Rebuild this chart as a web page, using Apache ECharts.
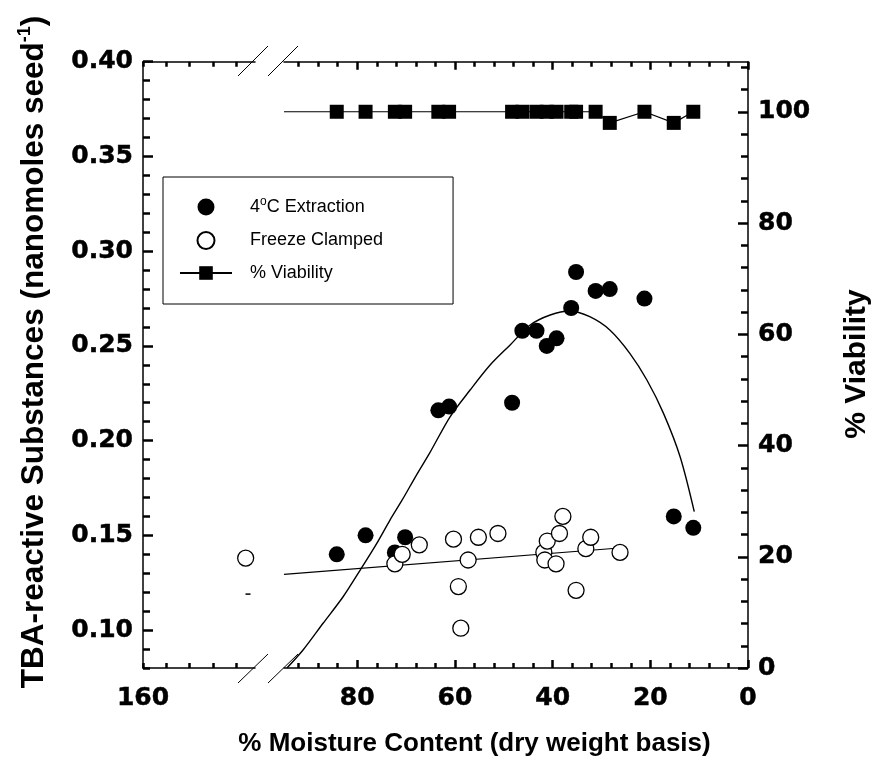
<!DOCTYPE html>
<html><head><meta charset="utf-8">
<script src="https://cdn.jsdelivr.net/npm/echarts@6/dist/echarts.min.js"></script>
<style>html,body{margin:0;padding:0;background:#fff}#c{width:881px;height:775px}</style>
</head><body><div id="c"></div>
<script>
// ---- data ----
const moisture4C = [84.2, 78.3, 72.3, 70.2, 63.4, 61.2, 48.3, 46.2, 43.3, 41.2, 39.2, 36.2, 35.2, 31.2, 28.3, 21.2, 15.2, 11.2];
const tba4C      = [0.140, 0.150, 0.141, 0.149, 0.216, 0.218, 0.220, 0.258, 0.258, 0.250, 0.254, 0.270, 0.289, 0.279, 0.280, 0.275, 0.160, 0.154];
const viability  = [100, 100, 100, 100, 100, 100, 100, 100, 100, 100, 100, 100, 100, 100, 98, 100, 98, 100];
const viabilityLineStart = [95, 100];

const moistureFreeze = [72.3, 70.8, 67.3, 60.3, 59.3, 58.8, 57.3, 55.2, 51.2, 41.8, 41.6, 41.1, 39.3, 38.6, 37.9, 35.2, 33.2, 32.2, 26.2];
const tbaFreeze      = [0.135, 0.140, 0.145, 0.148, 0.123, 0.101, 0.137, 0.149, 0.151, 0.141, 0.137, 0.147, 0.135, 0.151, 0.160, 0.121, 0.143, 0.149, 0.141];
const moistureFreezeHigh = [138];
const tbaFreezeHigh      = [0.138];
const moistureDash = [137.5];
const tbaDash      = [0.119];

const freezeFitX = [95, 27];
const freezeFitY = [0.1294, 0.1432];

const curveX = [94.4, 91.1, 87.0, 82.9, 79.4, 76.0, 73.3, 70.8, 68.0, 65.1, 61.0, 56.9, 52.8, 48.7, 44.6, 40.5, 36.5, 32.4, 28.3, 24.2, 20.7, 17.3, 13.9, 11.0];
const curveY = [0.080, 0.0895, 0.1036, 0.1176, 0.1317, 0.1458, 0.1581, 0.1687, 0.1813, 0.1938, 0.2126, 0.2267, 0.2399, 0.2505, 0.2610, 0.2663, 0.2684, 0.2654, 0.2584, 0.2461, 0.2320, 0.2144, 0.1915, 0.1625];

// ---- ticks / labels ----
const xLeftTicks  = [160, 155, 150, 145, 140];
const xLeftLabels = [160];
const xRightMinor = [0, 4, 8, 12, 16, 20, 24, 28, 32, 36, 40, 44, 48, 52, 56, 60, 64, 68, 72, 76, 80, 84, 88, 92];
const xRightMajor = [0, 20, 40, 60, 80];
const yLeftMinor  = [0.08, 0.09, 0.10, 0.11, 0.12, 0.13, 0.14, 0.15, 0.16, 0.17, 0.18, 0.19, 0.20, 0.21, 0.22, 0.23, 0.24, 0.25, 0.26, 0.27, 0.28, 0.29, 0.30, 0.31, 0.32, 0.33, 0.34, 0.35, 0.36, 0.37, 0.38, 0.39, 0.40];
const yLeftMajor  = [0.10, 0.15, 0.20, 0.25, 0.30, 0.35, 0.40];
const yRightMinor = [0, 4, 8, 12, 16, 20, 24, 28, 32, 36, 40, 44, 48, 52, 56, 60, 64, 68, 72, 76, 80, 84, 88, 92, 96, 100, 104, 108];
const yRightMajor = [0, 20, 40, 60, 80, 100];

const zip = (a, b) => a.map((v, i) => [v, b[i]]);

const BLACK = '#000';
const tickFont = { fontFamily: 'DejaVu Sans', fontWeight: 'bold', fontSize: 25, color: BLACK, textBorderColor: BLACK, textBorderWidth: 0.5 };
const lineSt = { color: BLACK, width: 1.5 };
const tickSt = { color: BLACK, width: 2.5 };

function xAx(grid, pos, min, max, ticks, tlen, labels, showLine) {
  return {
    gridIndex: grid, type: 'value', position: pos, min: min, max: max, inverse: true,
    axisLine: { show: showLine, onZero: false, lineStyle: lineSt },
    axisTick: { show: true, inside: true, length: tlen, customValues: ticks, lineStyle: tickSt },
    axisLabel: labels ? Object.assign({ show: true, customValues: labels, margin: 18 }, tickFont) : { show: false },
    splitLine: { show: false }
  };
}
function yAx(grid, pos, min, max, ticks, tlen, labels, showLine, fmt) {
  return {
    gridIndex: grid, type: 'value', position: pos, min: min, max: max,
    axisLine: { show: showLine, onZero: false, lineStyle: lineSt },
    axisTick: { show: true, inside: true, length: tlen, customValues: ticks, lineStyle: tickSt },
    axisLabel: labels ? Object.assign({ show: true, customValues: labels, margin: 10, formatter: fmt }, tickFont) : { show: false },
    splitLine: { show: false }
  };
}

const G = { top: 61.7, height: 606.3 };
const chart = echarts.init(document.getElementById('c'), null, { renderer: 'canvas' });

const option = {
  animation: false,
  backgroundColor: '#fff',
  grid: [
    Object.assign({ left: 143, width: 112, containLabel: false, outerBoundsMode: 'none' }, G),
    Object.assign({ left: 143, width: 112, containLabel: false, outerBoundsMode: 'none' }, G),
    Object.assign({ left: 284, width: 464, containLabel: false, outerBoundsMode: 'none' }, G),
    Object.assign({ left: 284, width: 464, containLabel: false, outerBoundsMode: 'none' }, G)
  ],
  xAxis: [
    xAx(0, 'bottom', 136, 160, xLeftTicks, 5, xLeftLabels, true),
    xAx(0, 'top', 136, 160, xLeftTicks, 5, null, true),
    xAx(2, 'bottom', 0, 95, xRightMinor, 5, xRightMajor, true),
    xAx(2, 'top', 0, 95, xRightMinor, 5, null, true),
    xAx(3, 'bottom', 0, 95, xRightMajor, 8, null, false),
    xAx(3, 'top', 0, 95, xRightMajor, 8, null, false),
    { gridIndex: 1, type: 'value', min: 136, max: 160, show: false }
  ],
  yAxis: [
    yAx(0, 'left', 0.08, 0.40, yLeftMinor, 7, yLeftMajor, true, v => v.toFixed(2)),
    yAx(1, 'left', 0.08, 0.40, yLeftMajor, 10, null, false),
    { gridIndex: 2, type: 'value', position: 'left', min: 0.08, max: 0.40, show: false },
    yAx(2, 'right', 0, 109, yRightMinor, 7, yRightMajor, true, v => String(Math.round(v))),
    yAx(3, 'right', 0, 109, yRightMajor, 10, null, false)
  ],
  legend: {
    show: true, orient: 'vertical', left: 163, top: 177,
    padding: [19, 70, 21, 16], itemGap: 12.5, itemWidth: 52, itemHeight: 17,
    borderColor: BLACK, borderWidth: 1, backgroundColor: '#fff', selectedMode: false,
    data: ['4°C Extraction', 'Freeze Clamped', '% Viability'],
    formatter: function (name) {
      if (name === '4°C Extraction') return '{t|4}{s|o}{u|C Extraction}';
      return '{t|' + name + '}';
    },
    textStyle: {
      fontFamily: 'Liberation Sans', fontSize: 18, color: BLACK, lineHeight: 20,
      rich: {
        t: { fontFamily: 'Liberation Sans', fontSize: 18, color: BLACK, lineHeight: 20, padding: [0, 0, 0, 13] },
        u: { fontFamily: 'Liberation Sans', fontSize: 18, color: BLACK, lineHeight: 20 },
        s: { fontFamily: 'Liberation Sans', fontSize: 12, color: BLACK, lineHeight: 20, padding: [0, 0, 10, 0] }
      }
    }
  },
  series: [
    { name: 'fit4C', type: 'line', xAxisIndex: 2, yAxisIndex: 2, data: zip(curveX, curveY),
      smooth: 0.3, symbol: 'none', lineStyle: { color: BLACK, width: 1.4 }, silent: true, z: 2 },
    { name: 'fitFreeze', type: 'line', xAxisIndex: 2, yAxisIndex: 2, data: zip(freezeFitX, freezeFitY),
      symbol: 'none', lineStyle: { color: BLACK, width: 1.2 }, silent: true, z: 2 },
    { name: '% Viability', type: 'line', xAxisIndex: 2, yAxisIndex: 3,
      data: [{ value: viabilityLineStart, symbol: 'none' }].concat(zip(moisture4C, viability)),
      symbol: 'rect', symbolSize: 14, showAllSymbol: true, itemStyle: { color: BLACK, opacity: 1 },
      lineStyle: { color: BLACK, width: 1.2 }, emphasis: { disabled: true }, z: 3 },
    { name: '4°C Extraction', type: 'scatter', xAxisIndex: 2, yAxisIndex: 2, data: zip(moisture4C, tba4C),
      symbol: 'circle', symbolSize: 16, itemStyle: { color: BLACK, opacity: 1 }, emphasis: { disabled: true }, z: 4 },
    { name: 'Freeze Clamped', type: 'scatter', xAxisIndex: 2, yAxisIndex: 2, data: zip(moistureFreeze, tbaFreeze),
      symbol: 'circle', symbolSize: 16, itemStyle: { color: '#fff', borderColor: BLACK, borderWidth: 1.3, opacity: 1 }, emphasis: { disabled: true }, z: 5 },
    { name: 'Freeze Clamped', type: 'scatter', xAxisIndex: 0, yAxisIndex: 0, data: zip(moistureFreezeHigh, tbaFreezeHigh),
      symbol: 'circle', symbolSize: 16, itemStyle: { color: '#fff', borderColor: BLACK, borderWidth: 1.3, opacity: 1 }, emphasis: { disabled: true }, z: 5 },
    { name: 'mark', type: 'scatter', xAxisIndex: 0, yAxisIndex: 0, data: zip(moistureDash, tbaDash),
      symbol: 'rect', symbolSize: [5, 1.5], itemStyle: { color: BLACK, opacity: 1 }, emphasis: { disabled: true }, z: 5 }
  ],
  graphic: [
    // axis break marks
    { type: 'line', shape: { x1: 238, y1: 76, x2: 268, y2: 46 }, style: { stroke: BLACK, lineWidth: 1 }, z: 10 },
    { type: 'line', shape: { x1: 268, y1: 76, x2: 298, y2: 46 }, style: { stroke: BLACK, lineWidth: 1 }, z: 10 },
    { type: 'line', shape: { x1: 238, y1: 683, x2: 268, y2: 654 }, style: { stroke: BLACK, lineWidth: 1 }, z: 10 },
    { type: 'line', shape: { x1: 268, y1: 683, x2: 298, y2: 654 }, style: { stroke: BLACK, lineWidth: 1 }, z: 10 },
    // axis titles
    { type: 'text', x: 474.5, y: 744, style: { text: '% Moisture Content (dry weight basis)', fontFamily: 'Liberation Sans', fontWeight: 'bold', fontSize: 26, fill: BLACK, align: 'center', verticalAlign: 'middle' } },
    { type: 'text', x: 34, y: 352, rotation: Math.PI / 2, style: { text: 'TBA-reactive Substances (nanomoles seed{s|-1})', fontFamily: 'Liberation Sans', fontWeight: 'bold', fontSize: 31.5, fill: BLACK, align: 'center', verticalAlign: 'middle',
      rich: { s: { fontFamily: 'Liberation Sans', fontWeight: 'bold', fontSize: 18, fill: BLACK, padding: [0, 0, 18, 0] } } } },
    { type: 'text', x: 857, y: 364, rotation: Math.PI / 2, style: { text: '% Viability', fontFamily: 'Liberation Sans', fontWeight: 'bold', fontSize: 30, fill: BLACK, align: 'center', verticalAlign: 'middle' } }
  ]
};
chart.setOption(option);
</script></body></html>
